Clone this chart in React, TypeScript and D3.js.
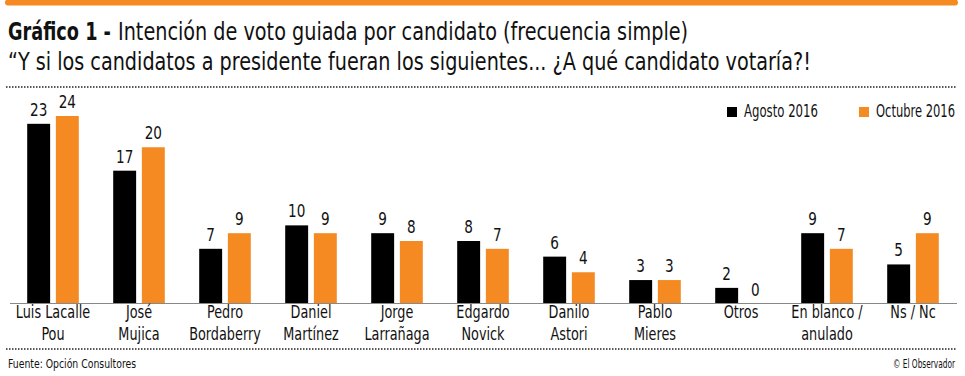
import React, { useLayoutEffect, useRef, useState } from "react";
import * as d3 from "d3";

const categories: string[][] = [
  ["Luis Lacalle", "Pou"],
  ["José", "Mujica"],
  ["Pedro", "Bordaberry"],
  ["Daniel", "Martínez"],
  ["Jorge", "Larrañaga"],
  ["Edgardo", "Novick"],
  ["Danilo", "Astori"],
  ["Pablo", "Mieres"],
  ["Otros"],
  ["En blanco /", "anulado"],
  ["Ns / Nc"],
];
const agosto = [23, 17, 7, 10, 9, 8, 6, 3, 2, 9, 5];
const octubre = [24, 20, 9, 9, 8, 7, 4, 3, 0, 7, 9];
const seriesNames = ["Agosto 2016", "Octubre 2016"];

const W = 965;
const H = 376;
const ORANGE = "#f58a23";
const FONT = "'DejaVu Sans Condensed', 'Liberation Sans Narrow', sans-serif";
const SX = 0.84;

function CText(props: {
  x: number;
  y: number;
  size: number;
  anchor?: "start" | "middle" | "end";
  children: React.ReactNode;
  weight?: string;
}) {
  return (
    <g transform={`translate(${props.x},${props.y}) scale(${SX},1)`}>
      <text x={0} y={0} fontSize={props.size} textAnchor={props.anchor || "start"} fill="#111" fontWeight={props.weight}>
        {props.children}
      </text>
    </g>
  );
}

// Text horizontally scaled to occupy a target width (mimics the condensed original face)
function FitText(props: { x: number; y: number; size: number; width: number; weight?: string; children: string }) {
  const ref = useRef<SVGTextElement>(null);
  const [s, setS] = useState(SX);
  useLayoutEffect(() => {
    if (ref.current) {
      const w = ref.current.getComputedTextLength();
      if (w > 0) setS(props.width / w);
    }
  }, [props.width, props.children]);
  return (
    <g transform={`translate(${props.x},${props.y}) scale(${s},1)`}>
      <text ref={ref} x={0} y={0} fontSize={props.size} fill="#111" fontWeight={props.weight}>
        {props.children}
      </text>
    </g>
  );
}

export default function App() {
  const x0 = d3
    .scaleBand<number>()
    .domain(d3.range(categories.length))
    .range([10, 956])
    .paddingInner(0.4)
    .paddingOuter(0.2);
  const x1 = d3.scaleBand<number>().domain([0, 1]).range([0, x0.bandwidth()]).paddingInner(0.2);
  const y = d3.scaleLinear().domain([0, 24]).range([303.5, 116]);

  const data = [agosto, octubre];
  const colors = ["#000", ORANGE];

  return (
    <svg width={W} height={H} style={{ position: "absolute", left: 0, top: 0, background: "#fff" }} fontFamily={FONT}>
      <rect x={0} y={0} width={W} height={H} fill="#fff" />
      <line x1={8} x2={955} y1={2.5} y2={2.5} stroke={ORANGE} strokeWidth={6} strokeLinecap="round" />
      <FitText x={8} y={40} size={24} weight="bold" width={103}>Gráfico 1 -</FitText>
      <FitText x={118} y={40} size={24} width={570}>Intención de voto guiada por candidato (frecuencia simple)</FitText>
      <FitText x={8} y={70} size={24} width={803}>
        “Y si los candidatos a presidente fueran los siguientes... ¿A qué candidato votaría?!
      </FitText>
      <line x1={6} x2={957} y1={87} y2={87} stroke="#222" strokeWidth={1.5} strokeDasharray="1.5,1.5" />

      {data.map((series, si) =>
        series.map((v, i) => (
          <rect
            key={`${si}-${i}`}
            x={(x0(i) as number) + (x1(si) as number)}
            y={y(v)}
            width={x1.bandwidth()}
            height={y(0) - y(v)}
            fill={colors[si]}
          />
        ))
      )}
      {data.map((series, si) =>
        series.map((v, i) => (
          <CText
            key={`t${si}-${i}`}
            x={(x0(i) as number) + (x1(si) as number) + x1.bandwidth() / 2}
            y={y(v) - 8}
            anchor="middle"
            size={18}
          >
            {v}
          </CText>
        ))
      )}
      <line x1={10} x2={957} y1={303.5} y2={303.5} stroke="#888" strokeWidth={1} />
      {categories.map((lines, i) =>
        lines.map((l, k) => (
          <CText
            key={`c${i}-${k}`}
            x={(x0(i) as number) + x0.bandwidth() / 2}
            y={318 + k * 22}
            anchor="middle"
            size={17}
          >
            {l}
          </CText>
        ))
      )}

      <rect x={727} y={107} width={10} height={10} fill="#000" />
      <FitText x={744} y={117} size={17} width={74}>{seriesNames[0]}</FitText>
      <rect x={859} y={107} width={10} height={10} fill={ORANGE} />
      <FitText x={876} y={117} size={17} width={79}>{seriesNames[1]}</FitText>

      <line x1={6} x2={957} y1={349} y2={349} stroke="#222" strokeWidth={1.5} strokeDasharray="1.5,1.5" />
      <FitText x={8} y={368} size={12.5} width={128}>Fuente: Opción Consultores</FitText>
      <FitText x={893} y={368} size={12.5} width={62}>© El Observador</FitText>
    </svg>
  );
}
